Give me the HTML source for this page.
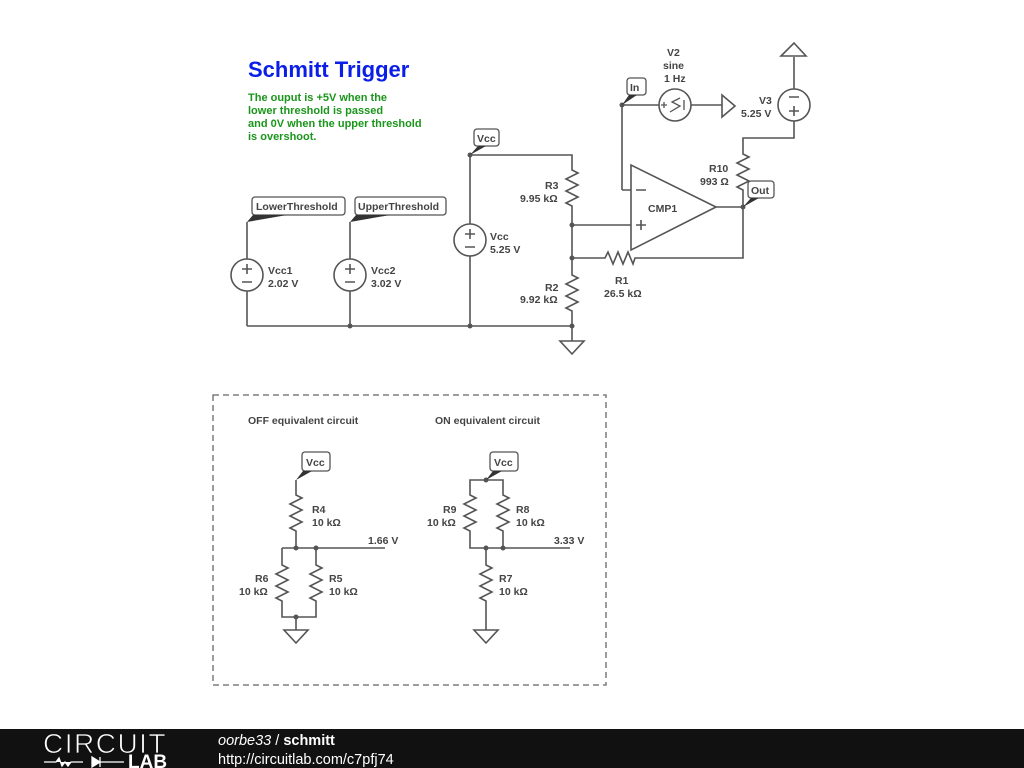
<!DOCTYPE html>
<html><head><meta charset="utf-8"><style>
html,body{margin:0;padding:0;background:#fff;}
svg{display:block;font-family:"Liberation Sans",sans-serif;}
.w{stroke:#555;stroke-width:1.6;fill:none;}
.t{font-size:10.5px;font-weight:bold;fill:#444;}
.lb{fill:#fff;stroke:#555;stroke-width:1.3;}
</style></head><body>
<svg width="1024" height="768" viewBox="0 0 1024 768" xmlns="http://www.w3.org/2000/svg">
<defs>
<path id="rv" d="M0,0 l0,5 l6,3 l-12,6 l12,6 l-12,6 l12,6 l-12,6 l6,3 l0,5"/>
</defs>
<text x="248" y="77" font-size="22" font-weight="bold" fill="#0a1ee8">Schmitt Trigger</text>
<g font-size="11" font-weight="bold" fill="#1a961a">
<text x="248" y="101">The ouput is +5V when the</text>
<text x="248" y="114">lower threshold is passed</text>
<text x="248" y="127">and 0V when the upper threshold</text>
<text x="248" y="140">is overshoot.</text>
</g>

<path class="w" d="M470,155 L572,155 L572,165 M572,211 L572,270 M572,316 L572,341 M247,326 L572,326 M470,155 L470,224 M470,256 L470,326 M247,222 L247,259 M247,291 L247,326 M350,222 L350,259 M350,291 L350,326 M572,225 L631,225 M572,258 L600,258 M640,258 L743,258 L743,207 L716,207 M743,207 L743,195 M743,149 L743,138 L794,138 L794,121 M794,89 L794,57 M622,190 L631,190 M622,190 L622,105 L659,105 M691,105 L722,105"/>
<use href="#rv" x="572" y="165" class="w"/>
<use href="#rv" x="572" y="270" class="w"/>
<use href="#rv" x="743" y="149" class="w"/>
<path class="w" d="M600,258 l5,0 l3,-6 l5,12 l5,-12 l5,12 l5,-12 l5,12 l2,-6 l5,0"/>
<g fill="#555"><circle cx="572" cy="225" r="2.5"/><circle cx="572" cy="258" r="2.5"/><circle cx="572" cy="326" r="2.5"/><circle cx="470" cy="326" r="2.5"/><circle cx="350" cy="326" r="2.5"/><circle cx="470" cy="155" r="2.5"/><circle cx="622" cy="105" r="2.5"/><circle cx="743" cy="207" r="2.5"/></g>
<path class="w" d="M560,341 L584,341 L572,354 Z M722,95 L722,117 L735,106 Z M781,56 L806,56 L794,43 Z"/>
<g class="w"><circle cx="470" cy="240" r="16"/><circle cx="247" cy="275" r="16"/><circle cx="350" cy="275" r="16"/><circle cx="675" cy="105" r="16"/><circle cx="794" cy="105" r="16"/></g>
<g class="w">
<path d="M465,234 h10 M470,229 v10 M465,247 h10"/>
<path d="M242,269 h10 M247,264 v10 M242,282 h10"/>
<path d="M345,269 h10 M350,264 v10 M345,282 h10"/>
<path d="M789,97 h10 M789,111 h10 M794,106 v10"/>
<path d="M661,105 h6 M664,102 v6 M684,100 v10 M670,112 l10,-6 l-8,-4 l8,-4" stroke-width="1.3"/>
</g>
<path class="w" d="M631,165 L631,250 L716,207 Z"/>
<path class="w" d="M636,190 h10 M636,225 h10 M641,220 v10"/>
<text x="648" y="212" class="t">CMP1</text>
<g class="t">
<text x="545" y="189">R3</text><text x="520" y="202">9.95 kΩ</text>
<text x="545" y="291">R2</text><text x="520" y="303">9.92 kΩ</text>
<text x="615" y="284">R1</text><text x="604" y="297">26.5 kΩ</text>
<text x="490" y="240">Vcc</text><text x="490" y="253">5.25 V</text>
<text x="268" y="274">Vcc1</text><text x="268" y="287">2.02 V</text>
<text x="371" y="274">Vcc2</text><text x="371" y="287">3.02 V</text>
<text x="667" y="56">V2</text><text x="663" y="69">sine</text><text x="664" y="82">1 Hz</text>
<text x="759" y="104">V3</text><text x="741" y="117">5.25 V</text>
<text x="709" y="172">R10</text><text x="700" y="185">993 Ω</text>
</g>
<g>
<rect class="lb" x="474" y="129" width="25" height="17" rx="3"/><path d="M470,155 L478,146 L486,146 Z" fill="#333"/><text x="477" y="142" class="t">Vcc</text>
<rect class="lb" x="252" y="197" width="93" height="18" rx="3"/><path d="M247,222 L253,215 L287,215 Z" fill="#333"/><text x="256" y="210" class="t">LowerThreshold</text>
<rect class="lb" x="355" y="197" width="91" height="18" rx="3"/><path d="M350,222 L356,215 L390,215 Z" fill="#333"/><text x="358" y="210" class="t">UpperThreshold</text>
<rect class="lb" x="627" y="78" width="19" height="17" rx="3"/><path d="M622,105 L629,95 L637,95 Z" fill="#333"/><text x="630" y="91" class="t">In</text>
<rect class="lb" x="748" y="181" width="26" height="17" rx="3"/><path d="M743,207 L751,198 L759,198 Z" fill="#333"/><text x="751" y="194" class="t">Out</text>
</g>

<rect x="213" y="395" width="393" height="290" fill="none" stroke="#666" stroke-width="1.3" stroke-dasharray="6,4"/>
<g class="t"><text x="248" y="424">OFF equivalent circuit</text><text x="435" y="424">ON equivalent circuit</text></g>
<path class="w" d="M296,480 L296,490 M296,536 L296,548 M282,548 L385,548 M282,548 L282,560 M316,548 L316,560 M282,606 L282,617 L316,617 L316,606 M296,617 L296,630"/>
<use href="#rv" x="296" y="490" class="w"/><use href="#rv" x="282" y="560" class="w"/><use href="#rv" x="316" y="560" class="w"/>
<path class="w" d="M284,630 L308,630 L296,643 Z"/>
<g fill="#555"><circle cx="296" cy="548" r="2.5"/><circle cx="316" cy="548" r="2.5"/><circle cx="296" cy="617" r="2.5"/></g>
<rect class="lb" x="302" y="452" width="28" height="19" rx="3"/><path d="M296,480 L303,471 L312,471 Z" fill="#333"/><text x="306" y="466" class="t">Vcc</text>
<g class="t"><text x="312" y="513">R4</text><text x="312" y="526">10 kΩ</text><text x="368" y="544">1.66 V</text>
<text x="255" y="582">R6</text><text x="239" y="595">10 kΩ</text><text x="329" y="582">R5</text><text x="329" y="595">10 kΩ</text></g>
<path class="w" d="M470,490 L470,480 L503,480 L503,490 M470,536 L470,548 L503,548 L503,536 M503,548 L570,548 M486,548 L486,560 M486,606 L486,630"/>
<use href="#rv" x="470" y="490" class="w"/><use href="#rv" x="503" y="490" class="w"/><use href="#rv" x="486" y="560" class="w"/>
<path class="w" d="M474,630 L498,630 L486,643 Z"/>
<g fill="#555"><circle cx="486" cy="480" r="2.5"/><circle cx="486" cy="548" r="2.5"/><circle cx="503" cy="548" r="2.5"/></g>
<rect class="lb" x="490" y="452" width="28" height="19" rx="3"/><path d="M486,480 L493,471 L502,471 Z" fill="#333"/><text x="494" y="466" class="t">Vcc</text>
<g class="t"><text x="443" y="513">R9</text><text x="427" y="526">10 kΩ</text><text x="516" y="513">R8</text><text x="516" y="526">10 kΩ</text>
<text x="554" y="544">3.33 V</text><text x="499" y="582">R7</text><text x="499" y="595">10 kΩ</text></g>

<rect x="0" y="729" width="1024" height="39" fill="#111"/>
<text x="43" y="753" font-size="28" fill="#fff" style="letter-spacing:1.5px" stroke="#111" stroke-width="0.8">CIRCUIT</text>
<path d="M44,762 h12 l3,-4 l3,8 l3,-4 l3,4 l3,-4 h12 M92,757 v10 l8,-5 z M100,757 v10 M100,762 h24" stroke="#fff" stroke-width="1.3" fill="#fff"/>
<text x="128" y="768" font-size="19" font-weight="bold" fill="#fff">LAB</text>
<text x="218" y="745" font-size="14.5" fill="#fff"><tspan font-style="italic">oorbe33</tspan> / <tspan font-weight="bold">schmitt</tspan></text>
<text x="218" y="764" font-size="14.5" fill="#fff">http://circuitlab.com/c7pfj74</text>
</svg>
</body></html>
